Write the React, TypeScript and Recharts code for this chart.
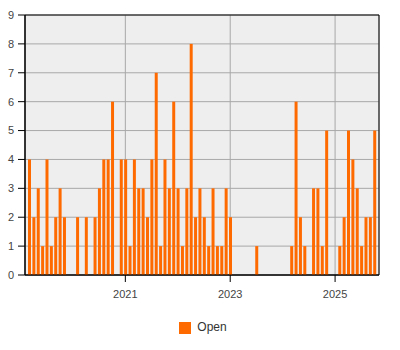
import {
  BarChart,
  Bar,
  XAxis,
  YAxis,
  CartesianGrid,
  Legend,
  ReferenceArea,
} from "recharts";

// monthly counts, first month is March 2019
const firstYear = 2019;
const firstMonth = 3;
const open2019 = [4, 2, 3, 1, 4, 1, 2, 3, 2, 0]; // Mar-Dec
const open2020 = [0, 2, 0, 2, 0, 2, 3, 4, 4, 6, 0, 4];
const open2021 = [4, 1, 4, 3, 3, 2, 4, 7, 1, 4, 3, 6];
const open2022 = [3, 1, 3, 8, 2, 3, 2, 1, 3, 1, 1, 3];
const open2023 = [2, 0, 0, 0, 0, 0, 1, 0, 0, 0, 0, 0];
const open2024 = [0, 0, 1, 6, 2, 1, 0, 3, 3, 1, 5, 0];
const open2025 = [0, 1, 2, 5, 4, 3, 1, 2, 2, 5]; // Jan-Oct

const yearTicks = ["2021", "2023", "2025"];
const yTicks = [0, 1, 2, 3, 4, 5, 6, 7, 8, 9];

const counts = [
  ...open2019,
  ...open2020,
  ...open2021,
  ...open2022,
  ...open2023,
  ...open2024,
  ...open2025,
];

const data = counts.map((open, i) => {
  const m = firstMonth - 1 + i;
  const year = firstYear + Math.floor(m / 12);
  const month = (m % 12) + 1;
  return { idx: i, month: `${year}-${String(month).padStart(2, "0")}`, open };
});

// x positions of January of each labelled year
const tickIdx = yearTicks.map((y) => data.findIndex((d) => d.month === `${y}-01`));
const tickLabel = (v: number) => data[v]?.month.slice(0, 4) ?? "";

const xDomain: [number, number] = [-0.96, 80.05];
const font = { fontFamily: "'Liberation Sans', Arial, sans-serif", fontSize: 11, fill: "#444" };

export default function App() {
  return (
    <div style={{ position: "absolute", left: 0, top: 0 }}>
      <BarChart
        width={400}
        height={350}
        data={data}
        margin={{ top: 15, right: 21, left: 0, bottom: 45 }}
      >
        <CartesianGrid fill="#eeeeee" stroke="#a8a8a8" />
        <XAxis
          dataKey="idx"
          type="number"
          domain={xDomain}
          ticks={tickIdx}
          interval={0}
          tickFormatter={tickLabel}
          tick={font}
          tickSize={7}
          tickMargin={8}
          height={30}
          stroke="#000"
        />
        <YAxis
          domain={[0, 9]}
          ticks={yTicks}
          interval={0}
          tick={font}
          tickSize={7}
          tickMargin={4}
          width={25}
          stroke="#000"
        />
        <Legend
          layout="horizontal"
          verticalAlign="middle"
          align="center"
          iconType="square"
          iconSize={12}
          wrapperStyle={{
            position: "absolute",
            top: 320,
            left: 8,
            width: 400,
            fontFamily: "'Liberation Sans', Arial, sans-serif",
            fontSize: 12,
          }}
          formatter={(v) => <span style={{ color: "#333", marginLeft: 2 }}>{v}</span>}
        />
        <Bar
          dataKey="open"
          name="Open"
          fill="#ff6a00"
          barSize={3}
          isAnimationActive={false}
        />
        <ReferenceArea
          x1={xDomain[0]}
          x2={xDomain[1]}
          y1={0}
          y2={9}
          fill="none"
          stroke="#000"
          strokeWidth={1}
        />
      </BarChart>
    </div>
  );
}
